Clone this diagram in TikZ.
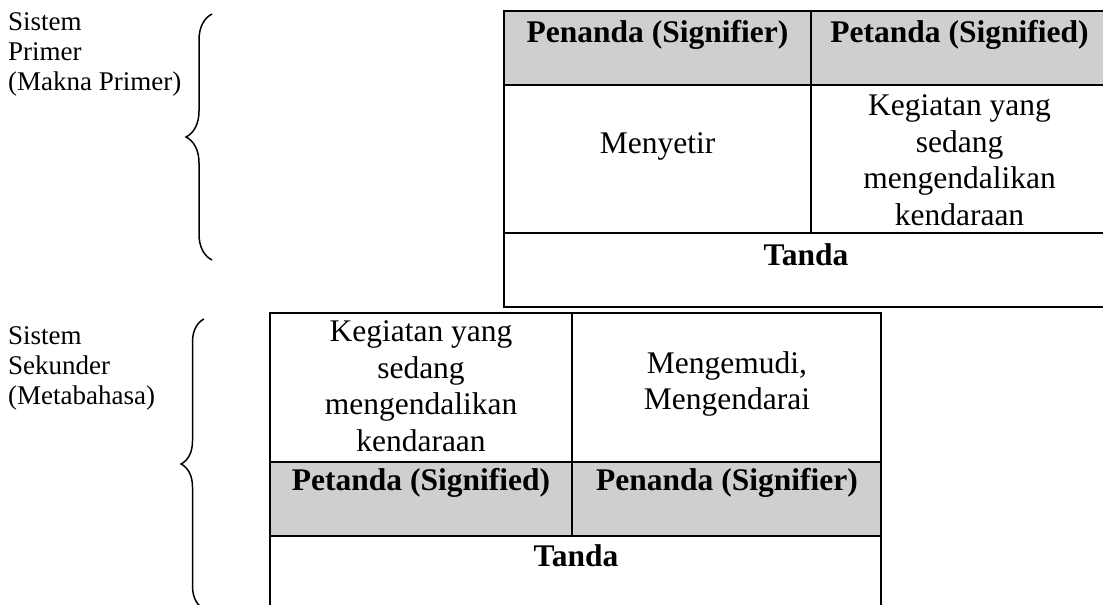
\documentclass[tikz,border=0pt]{standalone}
\usepackage{fontspec}
\setmainfont{Liberation Serif}
\usetikzlibrary{decorations.pathreplacing}
\definecolor{headgray}{RGB}{208,206,206}

\tikzset{
  celltext/.style={inner sep=0pt, align=center, font=\fontsize{31.5}{36.5}\selectfont},
  headtext/.style={inner sep=0pt, align=center, font=\bfseries\fontsize{31.5}{36.5}\selectfont},
  sidelabel/.style={inner sep=0pt, align=left, anchor=north west, font=\fontsize{27}{30}\selectfont},
  tableline/.style={line width=2.4pt},
  bracepath/.style={line width=1.5pt, decorate, decoration={brace, amplitude=26pt}}
}

\begin{document}
\begin{tikzpicture}[x=1pt,y=-1pt]

  \useasboundingbox (0,0) rectangle (1103,605);

  % primary system
  \fill[headgray] (504,11) rectangle (1108,85);
  \draw[tableline] (1108,11) -- (504,11) -- (504,307) -- (1108,307);
  \draw[tableline] (504,85) -- (1108,85);
  \draw[tableline] (504,233) -- (1108,233);
  \draw[tableline] (811,11) -- (811,233);

  \node[headtext, anchor=base] (priSignifier) at (657.5,42) {Penanda (Signifier)};
  \node[headtext, anchor=base] (priSignified) at (959.5,42) {Petanda (Signified)};
  \node[celltext, anchor=base] (priWord)      at (657.5,153) {Menyetir};
  \node[celltext]              (priMeaning)   at (959.5,160) {Kegiatan yang\\sedang\\mengendalikan\\kendaraan};
  \node[headtext, anchor=base] (priSign)      at (806,265) {Tanda};

  % secondary system
  \fill[headgray] (270,462) rectangle (881,536);
  \draw[tableline] (270,612) -- (270,313) -- (881,313) -- (881,612);
  \draw[tableline] (270,462) -- (881,462);
  \draw[tableline] (270,536) -- (881,536);
  \draw[tableline] (572,313) -- (572,536);

  \node[celltext]              (secMeaning)   at (421,386) {Kegiatan yang\\sedang\\mengendalikan\\kendaraan};
  \node[celltext]              (secWord)      at (727,384) {Mengemudi,\\Mengendarai};
  \node[headtext, anchor=base] (secSignified) at (421,490) {Petanda (Signified)};
  \node[headtext, anchor=base] (secSignifier) at (727,490) {Penanda (Signifier)};
  \node[headtext, anchor=base] (secSign)      at (576,566) {Tanda};

  % labels and braces
  \node[sidelabel] (priLabel) at (8,12)  {Sistem\\Primer\\(Makna Primer)};
  \node[sidelabel] (secLabel) at (8,326) {Sistem\\Sekunder\\(Metabahasa)};

  \coordinate (priTop) at (212,14);
  \coordinate (priBot) at (212,260);
  \coordinate (secTop) at (204,319);
  \coordinate (secBot) at (204,609);
  \draw[bracepath] (priBot) -- (priTop);
  \draw[bracepath, decoration={amplitude=23pt}] (secBot) -- (secTop);

\end{tikzpicture}
\end{document}
